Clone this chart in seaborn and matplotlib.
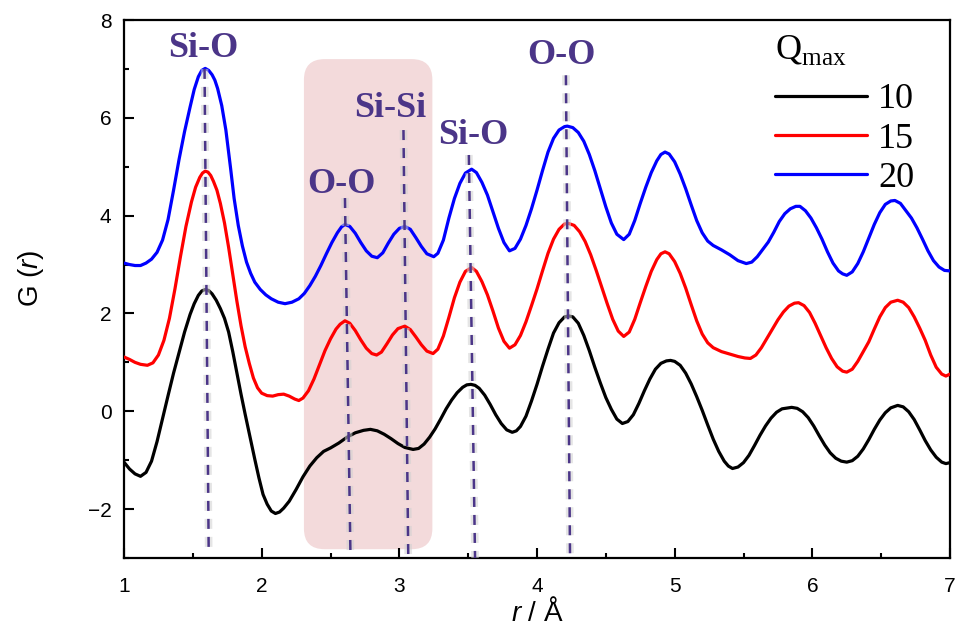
import numpy as np
import pandas as pd
import matplotlib
matplotlib.use("Agg")
import matplotlib.pyplot as plt
import matplotlib.patheffects as pe
from matplotlib.patches import FancyBboxPatch
from matplotlib.ticker import MultipleLocator
import seaborn as sns

# ---- G(r) curves for three Q_max cut-offs (r in Angstrom) ----
r_q10 = [1.00, 1.04, 1.08, 1.12, 1.16, 1.20, 1.24, 1.28, 1.32, 1.36, 1.40, 1.44, 1.48, 1.51,
         1.54, 1.565, 1.59, 1.615, 1.64, 1.67, 1.70, 1.73, 1.76, 1.79, 1.82, 1.85, 1.88,
         1.92, 1.95, 1.98, 2.01, 2.04, 2.07, 2.10, 2.13, 2.16, 2.20, 2.25, 2.30, 2.35,
         2.40, 2.45, 2.50, 2.56, 2.62, 2.68, 2.74, 2.79, 2.84, 2.89, 2.94, 2.99, 3.04,
         3.10, 3.14, 3.18, 3.22, 3.26, 3.30, 3.34, 3.38, 3.42, 3.46, 3.49, 3.52, 3.55,
         3.58, 3.62, 3.66, 3.70, 3.74, 3.78, 3.82, 3.85, 3.88, 3.92, 3.96, 4.00, 4.04,
         4.08, 4.12, 4.16, 4.20, 4.23, 4.26, 4.30, 4.34, 4.38, 4.42, 4.46, 4.50, 4.54,
         4.58, 4.62, 4.66, 4.70, 4.74, 4.78, 4.82, 4.86, 4.90, 4.94, 4.97, 5.00, 5.04,
         5.08, 5.12, 5.16, 5.20, 5.24, 5.28, 5.32, 5.36, 5.39, 5.42, 5.46, 5.50, 5.54,
         5.58, 5.62, 5.66, 5.70, 5.74, 5.78, 5.85, 5.89, 5.93, 5.97, 6.01, 6.05, 6.09,
         6.13, 6.17, 6.21, 6.25, 6.29, 6.33, 6.37, 6.41, 6.45, 6.49, 6.53, 6.57, 6.62,
         6.66, 6.70, 6.74, 6.78, 6.82, 6.86, 6.90, 6.94, 6.97, 7.00]
g_q10 = [-1.04, -1.18, -1.28, -1.33, -1.25, -1.02, -0.62, -0.15, 0.32, 0.78, 1.20, 1.62, 1.98, 2.20,
         2.37, 2.46, 2.49, 2.47, 2.40, 2.27, 2.10, 1.90, 1.62, 1.22, 0.78, 0.35, -0.06,
         -0.59, -0.98, -1.36, -1.70, -1.90, -2.04, -2.09, -2.06, -1.98, -1.84, -1.60, -1.34, -1.12,
         -0.95, -0.82, -0.75, -0.65, -0.53, -0.44, -0.39, -0.37, -0.40, -0.47, -0.56, -0.66, -0.74,
         -0.78, -0.76, -0.67, -0.53, -0.36, -0.16, 0.05, 0.23, 0.38, 0.49, 0.54, 0.55, 0.53,
         0.47, 0.33, 0.14, -0.07, -0.25, -0.38, -0.43, -0.40, -0.31, -0.10, 0.21, 0.55, 0.92,
         1.27, 1.60, 1.81, 1.93, 1.95, 1.93, 1.80, 1.55, 1.24, 0.90, 0.58, 0.28, 0.04,
         -0.16, -0.25, -0.21, -0.07, 0.16, 0.42, 0.66, 0.86, 0.98, 1.03, 1.04, 1.02, 0.94,
         0.78, 0.56, 0.30, 0.02, -0.28, -0.57, -0.82, -1.02, -1.12, -1.17, -1.14, -1.05, -0.90,
         -0.70, -0.49, -0.30, -0.14, -0.02, 0.05, 0.08, 0.06, -0.01, -0.13, -0.30, -0.50, -0.69,
         -0.85, -0.96, -1.02, -1.04, -1.01, -0.92, -0.77, -0.58, -0.37, -0.18, -0.03, 0.07, 0.12,
         0.09, -0.01, -0.17, -0.38, -0.60, -0.79, -0.94, -1.04, -1.07, -1.05]

r_q15 = [1.00, 1.04, 1.08, 1.12, 1.17, 1.21, 1.25, 1.29, 1.33, 1.37, 1.41, 1.45, 1.49, 1.52,
         1.55, 1.57, 1.59, 1.61, 1.63, 1.65, 1.675, 1.70, 1.73, 1.76, 1.79, 1.82, 1.85,
         1.88, 1.91, 1.94, 1.97, 2.00, 2.04, 2.08, 2.12, 2.16, 2.20, 2.24, 2.27, 2.30,
         2.34, 2.38, 2.42, 2.46, 2.50, 2.54, 2.57, 2.605, 2.64, 2.68, 2.72, 2.76, 2.80,
         2.835, 2.87, 2.91, 2.95, 2.99, 3.04, 3.08, 3.12, 3.16, 3.20, 3.245, 3.28, 3.32,
         3.36, 3.40, 3.44, 3.48, 3.525, 3.56, 3.60, 3.64, 3.68, 3.72, 3.76, 3.80, 3.84,
         3.88, 3.92, 3.96, 4.00, 4.04, 4.08, 4.12, 4.16, 4.20, 4.23, 4.27, 4.31, 4.35,
         4.39, 4.43, 4.47, 4.51, 4.55, 4.59, 4.63, 4.67, 4.71, 4.75, 4.79, 4.83, 4.87,
         4.90, 4.93, 4.96, 5.00, 5.04, 5.08, 5.12, 5.16, 5.20, 5.24, 5.28, 5.34, 5.40,
         5.46, 5.51, 5.55, 5.59, 5.63, 5.67, 5.71, 5.75, 5.79, 5.83, 5.87, 5.90, 5.94,
         5.98, 6.02, 6.06, 6.10, 6.14, 6.18, 6.22, 6.25, 6.29, 6.33, 6.37, 6.41, 6.45,
         6.49, 6.53, 6.57, 6.62, 6.66, 6.70, 6.74, 6.78, 6.82, 6.86, 6.90, 6.94, 6.97, 7.00]
g_q15 = [1.11, 1.06, 1.00, 0.96, 0.94, 0.99, 1.15, 1.45, 1.90, 2.50, 3.16, 3.78, 4.28, 4.58,
         4.78, 4.87, 4.91, 4.89, 4.82, 4.70, 4.52, 4.25, 3.85, 3.35, 2.80, 2.25, 1.75,
         1.32, 0.98, 0.68, 0.48, 0.37, 0.32, 0.31, 0.34, 0.35, 0.31, 0.25, 0.22, 0.27,
         0.42, 0.66, 0.95, 1.24, 1.48, 1.68, 1.78, 1.85, 1.80, 1.65, 1.46, 1.29, 1.18,
         1.15, 1.21, 1.38, 1.56, 1.69, 1.74, 1.67, 1.52, 1.36, 1.23, 1.18, 1.27, 1.54,
         1.92, 2.32, 2.64, 2.86, 2.94, 2.86, 2.65, 2.38, 2.05, 1.70, 1.43, 1.29, 1.36,
         1.55, 1.83, 2.16, 2.50, 2.87, 3.23, 3.52, 3.72, 3.83, 3.84, 3.80, 3.67, 3.47,
         3.20, 2.88, 2.54, 2.20, 1.88, 1.64, 1.53, 1.62, 1.88, 2.22, 2.55, 2.86, 3.10,
         3.22, 3.26, 3.22, 3.06, 2.82, 2.52, 2.18, 1.85, 1.58, 1.40, 1.30, 1.22, 1.17,
         1.12, 1.09, 1.08, 1.15, 1.30, 1.49, 1.68, 1.87, 2.03, 2.15, 2.21, 2.22, 2.16,
         2.02, 1.80, 1.55, 1.30, 1.08, 0.91, 0.82, 0.80, 0.86, 1.02, 1.22, 1.42, 1.68,
         1.93, 2.12, 2.23, 2.27, 2.23, 2.12, 1.93, 1.70, 1.45, 1.15, 0.90, 0.76, 0.72, 0.76]

r_q20 = [1.00, 1.04, 1.08, 1.12, 1.16, 1.20, 1.24, 1.28, 1.32, 1.36, 1.40, 1.44, 1.48, 1.51,
         1.54, 1.565, 1.59, 1.615, 1.64, 1.66, 1.68, 1.71, 1.74, 1.775, 1.80, 1.83, 1.86,
         1.89, 1.92, 1.95, 1.99, 2.03, 2.07, 2.12, 2.17, 2.22, 2.27, 2.31, 2.35, 2.39,
         2.43, 2.47, 2.51, 2.55, 2.58, 2.605, 2.64, 2.68, 2.72, 2.76, 2.80, 2.84, 2.88,
         2.92, 2.96, 3.00, 3.04, 3.08, 3.12, 3.16, 3.20, 3.25, 3.28, 3.32, 3.36, 3.40,
         3.44, 3.48, 3.525, 3.56, 3.60, 3.64, 3.68, 3.72, 3.76, 3.80, 3.84, 3.88, 3.92,
         3.96, 4.00, 4.04, 4.08, 4.12, 4.16, 4.20, 4.22, 4.26, 4.30, 4.34, 4.38, 4.42,
         4.46, 4.50, 4.54, 4.58, 4.63, 4.67, 4.71, 4.75, 4.79, 4.83, 4.87, 4.90, 4.93,
         4.96, 5.00, 5.04, 5.08, 5.12, 5.16, 5.20, 5.24, 5.28, 5.34, 5.40, 5.46, 5.52,
         5.56, 5.60, 5.64, 5.68, 5.72, 5.76, 5.80, 5.84, 5.88, 5.91, 5.95, 5.99, 6.03,
         6.07, 6.11, 6.15, 6.19, 6.22, 6.25, 6.29, 6.33, 6.37, 6.41, 6.45, 6.49, 6.53,
         6.57, 6.60, 6.64, 6.68, 6.72, 6.76, 6.80, 6.84, 6.88, 6.92, 6.96, 7.00]
g_q20 = [3.03, 3.00, 2.98, 2.98, 3.03, 3.11, 3.25, 3.50, 3.92, 4.52, 5.15, 5.72, 6.22, 6.58,
         6.84, 6.97, 7.01, 6.97, 6.88, 6.77, 6.60, 6.25, 5.75, 4.95, 4.35, 3.80, 3.38,
         3.05, 2.82, 2.64, 2.49, 2.38, 2.30, 2.23, 2.20, 2.23, 2.30, 2.41, 2.57, 2.76,
         2.98, 3.22, 3.45, 3.65, 3.77, 3.82, 3.78, 3.64, 3.45, 3.28, 3.17, 3.14, 3.24,
         3.44, 3.62, 3.74, 3.78, 3.72, 3.55, 3.37, 3.22, 3.16, 3.23, 3.50, 3.95, 4.35,
         4.66, 4.87, 4.95, 4.88, 4.68, 4.42, 4.08, 3.74, 3.45, 3.28, 3.33, 3.52, 3.80,
         4.14, 4.52, 4.92, 5.30, 5.58, 5.75, 5.82, 5.83, 5.80, 5.70, 5.52, 5.25, 4.92,
         4.55, 4.18, 3.85, 3.62, 3.51, 3.62, 3.90, 4.25, 4.58, 4.88, 5.12, 5.25, 5.30,
         5.26, 5.10, 4.85, 4.55, 4.22, 3.90, 3.65, 3.48, 3.39, 3.30, 3.20, 3.08, 3.02,
         3.05, 3.16, 3.31, 3.46, 3.66, 3.88, 4.04, 4.14, 4.19, 4.19, 4.10, 3.95, 3.75,
         3.52, 3.26, 3.03, 2.87, 2.81, 2.78, 2.85, 3.02, 3.26, 3.54, 3.82, 4.06, 4.23,
         4.30, 4.31, 4.25, 4.10, 3.95, 3.75, 3.52, 3.28, 3.08, 2.95, 2.88, 2.87]

qmax_labels = ["10", "15", "20"]
qmax_colors = ["#000000", "#FF0000", "#0000FF"]

# ---- peak assignments: dashed guide lines and their labels ----
peak_names = ["Si-O", "O-O", "Si-Si", "Si-O", "O-O"]
peak_r_top = [1.585, 2.605, 3.030, 3.505, 4.210]
peak_r_bottom = [1.615, 2.645, 3.065, 3.550, 4.240]
peak_g_top = [7.00, 4.36, 5.75, 5.24, 6.87]
peak_g_bottom = [-2.80, -2.95, -3.00, -3.00, -3.00]
label_r = [1.574, 2.583, 2.932, 3.535, 4.181]
label_g = [7.24, 4.46, 6.01, 5.46, 7.10]

# highlighted intermediate-range region
band_r = (2.307, 3.240)
band_g = (-2.82, 7.20)

sns.set_theme(style="ticks")
plt.rcParams["font.family"] = ["Liberation Sans", "DejaVu Sans"]
plt.rcParams["mathtext.fontset"] = "custom"
plt.rcParams["mathtext.rm"] = "Liberation Serif"
plt.rcParams["mathtext.it"] = "Liberation Sans:italic"
plt.rcParams["mathtext.bf"] = "Liberation Serif:bold"
plt.rcParams["text.color"] = "black"
plt.rcParams["axes.labelcolor"] = "black"
plt.rcParams["xtick.color"] = "black"
plt.rcParams["ytick.color"] = "black"

fig = plt.figure(figsize=(9.55, 6.31), dpi=100)
ax = fig.add_axes([124 / 955, 73 / 631, 826 / 955, 538 / 631])

frames = []
for lab, rr, gg in zip(qmax_labels, [r_q10, r_q15, r_q20], [g_q10, g_q15, g_q20]):
    frames.append(pd.DataFrame({"r": rr, "G": gg, "Qmax": lab}))
df = pd.concat(frames, ignore_index=True)

# shaded band with rounded corners
w_px, h_px = 826 / 6.0, 538 / 11.0
band = FancyBboxPatch((band_r[0], band_g[0]), band_r[1] - band_r[0], band_g[1] - band_g[0],
                      boxstyle="round,pad=0,rounding_size=0.15",
                      mutation_aspect=w_px / h_px,
                      facecolor="#F3DADB", edgecolor="none", zorder=0)
ax.add_patch(band)

sns.lineplot(data=df, x="r", y="G", hue="Qmax", palette=dict(zip(qmax_labels, qmax_colors)),
             hue_order=qmax_labels, estimator=None, linewidth=2.3, ax=ax, legend=False, zorder=3)
for ln in ax.get_lines():
    ln.set_solid_joinstyle("round")
    ln.set_solid_capstyle("round")

guide_color = "#4B3588"
for x0, x1, y0, y1 in zip(peak_r_top, peak_r_bottom, peak_g_top, peak_g_bottom):
    ax.plot([x0, x1], [y0, y1], color=guide_color, lw=1.8, dashes=(4.0, 3.2), zorder=4,
            path_effects=[pe.Stroke(linewidth=5.5, foreground="#D0D0D0", alpha=0.55), pe.Normal()])

for name, x, y in zip(peak_names, label_r, label_g):
    ax.text(x, y, name, ha="center", va="baseline", fontsize=26, fontweight="bold",
            family="Liberation Serif", color=guide_color, zorder=5)

ax.set_xlim(1, 7)
ax.set_ylim(-3, 8)
ax.xaxis.set_major_locator(MultipleLocator(1))
ax.xaxis.set_minor_locator(MultipleLocator(0.5))
ax.yaxis.set_major_locator(MultipleLocator(2))
ax.yaxis.set_minor_locator(MultipleLocator(1))
ax.tick_params(which="both", direction="in", top=False, right=False, width=1.5, color="black")
ax.tick_params(which="major", length=7.2, labelsize=15, labelcolor="black")
ax.tick_params(axis="x", which="major", pad=14)
ax.tick_params(axis="y", which="major", pad=9)
ax.tick_params(which="minor", length=3.6)
for s in ax.spines.values():
    s.set_linewidth(1.6)
    s.set_color("black")
    s.set_visible(True)

ax.set_ylabel("G ($\\mathit{r}$)", fontsize=20)
ax.yaxis.set_label_coords(-0.094, 0.52)
ax.set_xlabel("$\\mathit{r}$ / Å", fontsize=20)
ax.xaxis.set_label_coords(0.501, -0.0743)

# legend: heading drawn as its own text, entries below it
ax.text((775 - 124) / 826, (558 - 59) / 538, "Q$_{\\mathrm{max}}$", transform=ax.transAxes,
        ha="left", va="baseline", fontsize=26, family="Liberation Serif", color="black")
handles = [plt.Line2D([], [], color=c, lw=2.3) for c in qmax_colors]
leg = ax.legend(handles, qmax_labels, frameon=False,
                loc="upper left", bbox_to_anchor=((775 - 124) / 826, (558 - 83) / 538),
                prop={"family": "Liberation Serif", "size": 26},
                handlelength=2.55, handletextpad=0.3, labelspacing=0.17, borderpad=0,
                borderaxespad=0)

fig.savefig("out.png", dpi=100)
